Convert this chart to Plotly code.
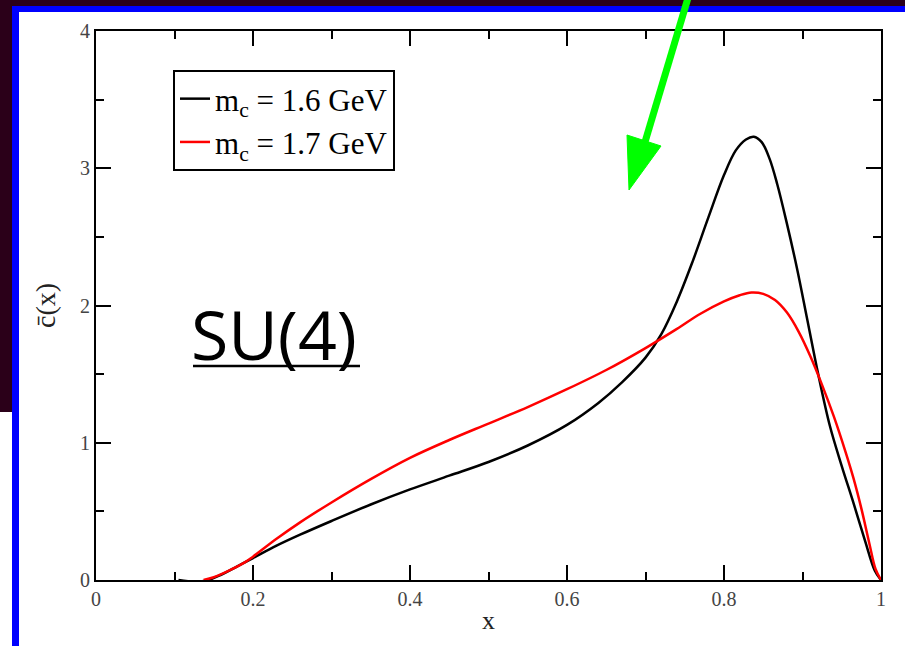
import plotly.graph_objects as go

# ---- data ----
x_16 = [0.105, 0.12, 0.14, 0.16, 0.18, 0.2, 0.23, 0.26, 0.3, 0.35, 0.4, 0.45, 0.5, 0.55, 0.6, 0.64, 0.67,
        0.7, 0.72, 0.74, 0.76, 0.78, 0.8, 0.815, 0.828, 0.838, 0.848, 0.858, 0.868, 0.88, 0.893, 0.906,
        0.92, 0.935, 0.95, 0.965, 0.98, 0.992, 1.0]
y_16 = [0.0, -0.01, -0.005, 0.04, 0.1, 0.16, 0.25, 0.33, 0.43, 0.55, 0.66, 0.76, 0.86, 0.98, 1.13, 1.29, 1.44,
        1.62, 1.79, 2.03, 2.32, 2.64, 2.95, 3.13, 3.21, 3.23, 3.19, 3.07, 2.88, 2.6, 2.27, 1.9,
        1.5, 1.12, 0.83, 0.56, 0.28, 0.07, 0.0]

x_17 = [0.137, 0.15, 0.17, 0.19, 0.2, 0.23, 0.26, 0.3, 0.35, 0.4, 0.45, 0.5, 0.55, 0.6, 0.65, 0.7, 0.74,
        0.77, 0.8, 0.82, 0.835, 0.85, 0.865, 0.88, 0.895, 0.91, 0.925, 0.94, 0.955, 0.965, 0.975, 0.985,
        0.993, 1.0]
y_17 = [0.0, 0.02, 0.07, 0.13, 0.17, 0.3, 0.42, 0.565, 0.735, 0.89, 1.02, 1.14, 1.26, 1.39, 1.53, 1.69, 1.83,
        1.94, 2.03, 2.075, 2.095, 2.085, 2.04, 1.95, 1.81, 1.63, 1.42, 1.19, 0.93, 0.74, 0.52, 0.27,
        0.08, 0.0]

names = ["m<sub>c</sub> = 1.6 GeV", "m<sub>c</sub> = 1.7 GeV"]
colors = ["#000000", "#ff0000"]

x_tickvals = [0, 0.2, 0.4, 0.6, 0.8, 1]
x_ticktext = ["0", "0.2", "0.4", "0.6", "0.8", "1"]
y_tickvals = [0, 1, 2, 3, 4]
y_ticktext = ["0", "1", "2", "3", "4"]

W, H = 905, 646
L, R, T, B = 96, 881, 31, 580


def px(xpx):
    return (xpx - L) / (R - L)


def py(ypx):
    return (B - ypx) / (B - T)


fig = go.Figure()
for xs, ys, nm, c in [(x_16, y_16, names[0], colors[0]), (x_17, y_17, names[1], colors[1])]:
    fig.add_trace(go.Scatter(x=xs, y=ys, mode="lines", name=nm,
                             line=dict(color=c, width=2.5, shape="spline", smoothing=1.0)))

serif = "Liberation Serif, Times New Roman, serif"

axis_common = dict(showline=True, linecolor="black", linewidth=2, mirror="ticks",
                   ticks="inside", ticklen=15, tickwidth=1.5, tickcolor="black",
                   showgrid=False, zeroline=False,
                   tickfont=dict(family=serif, size=20, color="#444"))

fig.update_xaxes(range=[0, 1], tickvals=x_tickvals, ticktext=x_ticktext,
                 minor=dict(ticks="inside", ticklen=8, tickwidth=1.5, tickcolor="black", dtick=0.1),
                 title=dict(text="x", font=dict(family=serif, size=26, color="#222"), standoff=2),
                 **axis_common)
fig.update_yaxes(range=[0, 4], tickvals=y_tickvals, ticktext=y_ticktext,
                 minor=dict(ticks="inside", ticklen=8, tickwidth=1.5, tickcolor="black", dtick=0.5),
                 title=dict(text="c\u0304(x)", font=dict(family=serif, size=28, color="#222"), standoff=16),
                 **axis_common)

shapes = []
purple = "#2b0019"
blue = "#0000ff"
# background strips
shapes.append(dict(type="rect", xref="paper", yref="paper", x0=px(0), x1=px(W), y0=py(0), y1=py(6),
                   fillcolor=purple, line=dict(width=0), layer="below"))
shapes.append(dict(type="rect", xref="paper", yref="paper", x0=px(0), x1=px(12), y0=py(0), y1=py(412),
                   fillcolor=purple, line=dict(width=0), layer="below"))
shapes.append(dict(type="rect", xref="paper", yref="paper", x0=px(12), x1=px(W), y0=py(6), y1=py(12),
                   fillcolor=blue, line=dict(width=0), layer="below"))
shapes.append(dict(type="rect", xref="paper", yref="paper", x0=px(12), x1=px(19), y0=py(6), y1=py(H),
                   fillcolor=blue, line=dict(width=0), layer="below"))
# green arrow
green = "#00ff00"
shapes.append(dict(type="line", xref="paper", yref="paper", x0=px(688), y0=py(-2), x1=px(645), y1=py(142),
                   line=dict(color=green, width=7), layer="above"))
shapes.append(dict(type="path", xref="paper", yref="paper",
                   path=f"M {px(627)},{py(135)} L {px(661)},{py(146)} L {px(629)},{py(190)} Z",
                   fillcolor=green, line=dict(color=green, width=1), layer="above"))
# underline of SU(4)
shapes.append(dict(type="line", xref="paper", yref="paper", x0=px(193), x1=px(360), y0=py(366), y1=py(366),
                   line=dict(color="black", width=2.5), layer="above"))

fig.update_layout(
    width=W, height=H,
    margin=dict(l=L, r=W - R, t=T, b=H - B),
    paper_bgcolor="white", plot_bgcolor="white",
    shapes=shapes,
    showlegend=True,
    legend=dict(x=px(173), y=py(70), xanchor="left", yanchor="top",
                bordercolor="black", borderwidth=2, bgcolor="white",
                font=dict(family=serif, size=31, color="black"),
                itemwidth=30, tracegroupgap=0),
    annotations=[dict(text="SU(4)", xref="paper", yref="paper", x=px(189), y=py(334),
                      xanchor="left", yanchor="middle", showarrow=False,
                      font=dict(family="Open Sans", size=68, color="black"))],
)

fig.write_html("out.html")
